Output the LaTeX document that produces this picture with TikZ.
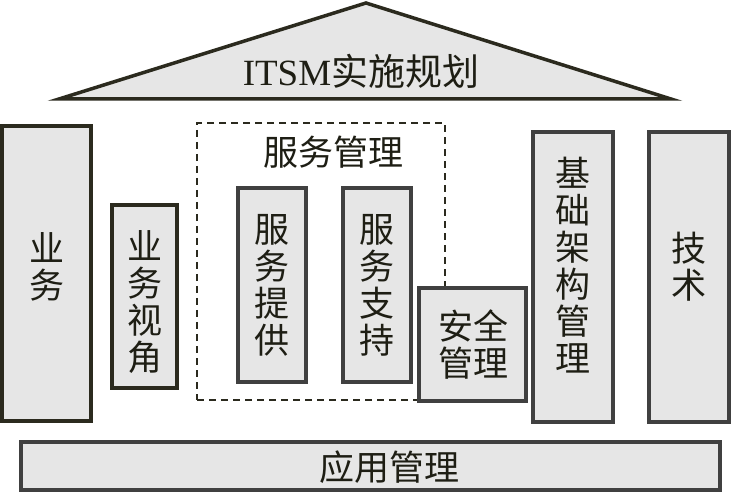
\documentclass[tikz,border=0pt]{standalone}
\usepackage{fontspec}
\setmainfont{Liberation Serif}
\newfontfamily\cjk{Noto Sans CJK SC}
\begin{document}
\begin{tikzpicture}[x=1pt,y=-1pt,
  boxfill/.style={fill=gfill, draw=#1, line width=3.5pt},
  boxfill/.default=bdark,
  lbl/.style={font=\cjk\fontsize{35}{37}\selectfont, text=txt, align=center, inner sep=0pt},
]
\definecolor{gfill}{HTML}{E6E6E6}
\definecolor{bdark}{HTML}{2B2A1E}
\definecolor{bgray}{HTML}{404040}
\definecolor{txt}{HTML}{1E1E14}
\useasboundingbox (0,0) rectangle (732,500);
% roof
\draw[boxfill, line join=miter] (59,99) -- (366,3) -- (671,99) -- cycle;
\node[lbl, font=\fontsize{37}{40}\selectfont] (roof) at (361,71) {ITSM{\cjk 实施规划}};
% dashed service management frame
\node[draw=bdark, line width=1.4pt, dash pattern=on 7pt off 5pt, inner sep=0pt, minimum width=248pt, minimum height=277pt] (frame) at (321,261.5) {};
\node[lbl] (frameT) at (333,152) {服务管理};
% boxes
\draw[boxfill] (2,126) rectangle (91,421);
\node[lbl] (yw) at (46.5,267) {业\\务};
\draw[boxfill] (112,205) rectangle (177,388);
\node[lbl] (ywsj) at (144.5,302) {业\\务\\视\\角};
\draw[boxfill=bgray] (238,188) rectangle (306,382);
\node[lbl] (fwtg) at (272,285) {服\\务\\提\\供};
\draw[boxfill=bgray] (343,188) rectangle (411,382);
\node[lbl] (fwzc) at (377,285) {服\\务\\支\\持};
\draw[boxfill=bgray] (419,288) rectangle (526,401);
\node[lbl] (aqgl) at (473,345) {安全\\管理};
\draw[boxfill=bgray] (533,132) rectangle (613,422);
\node[lbl] (jcjg) at (573,265) {基\\础\\架\\构\\管\\理};
\draw[boxfill=bgray] (649,132) rectangle (729,422);
\node[lbl] (js) at (689,267) {技\\术};
\draw[boxfill=bgray] (21,442) rectangle (720,490);
\node[lbl] (yygl) at (389,467) {应用管理};
\end{tikzpicture}
\end{document}
